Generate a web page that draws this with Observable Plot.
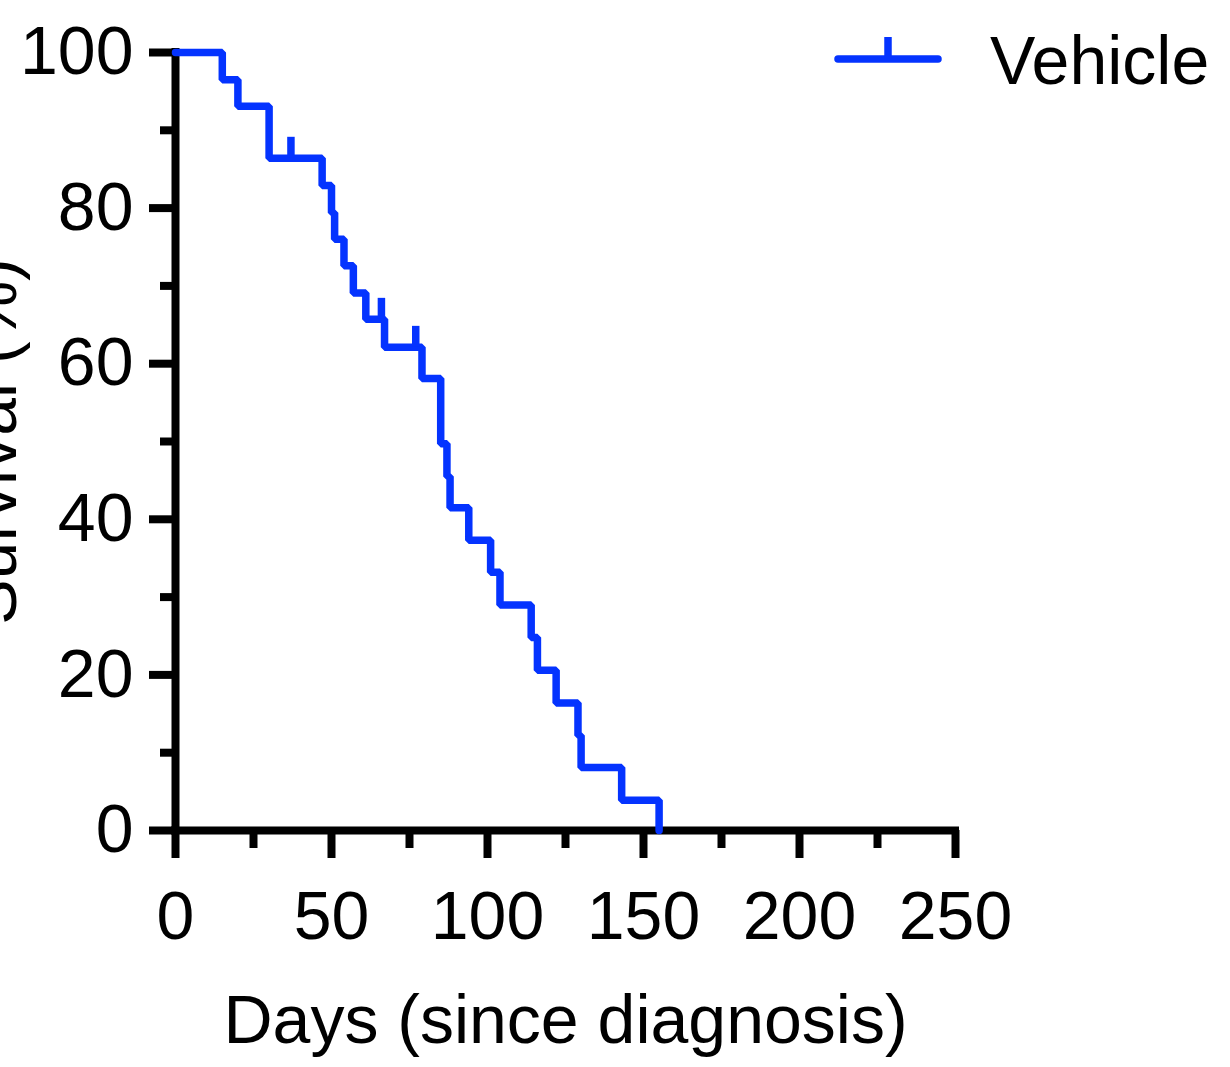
<!DOCTYPE html>
<html>
<head>
<meta charset="utf-8">
<script src="https://cdn.jsdelivr.net/npm/d3@7"></script>
<script src="https://cdn.jsdelivr.net/npm/@observablehq/plot@0.6"></script>
<style>
  body { margin: 0; background: #fff; font-family: "Liberation Sans", Arial, Helvetica, sans-serif; }
  #wrap { position: relative; width: 1230px; height: 1067px; overflow: hidden; background: #fff; }
  #wrap > svg.chart { position: absolute; left: 0; top: 0; }
  #legendKey { position: absolute; left: 834px; top: 34px; }
  #legendText { position: absolute; left: 990px; top: 26px; font-size: 68px; line-height: 68px; color: #000; white-space: nowrap; }
</style>
</head>
<body>
<div id="wrap"></div>
<script>
// ---- data ----
const seriesName = "Vehicle";
const days =     [0,   15,   20,   30,   47,   50,   51,   54,   57,   61,   67,   79,   85,   87,   88,   94,  101,  104,  114,  116,  122,  129,  130,  143, 155];
const survival = [100, 96.5, 93.1, 86.4, 82.9, 79.4, 76.0, 72.6, 69.1, 65.7, 62.1, 58.1, 49.7, 45.5, 41.5, 37.3, 33.2, 29.0, 24.8, 20.6, 16.4, 12.2, 8.1,  3.9, 0];
const censorDays =     [37, 66, 77];
const censorSurvival = [86.4, 65.7, 62.1];
const xTicks = [0, 50, 100, 150, 200, 250];
const xMinorTicks = [25, 75, 125, 175, 225];
const yTicks = [0, 20, 40, 60, 80, 100];
const yMinorTicks = [10, 30, 50, 70, 90];
const xLabel = "Days (since diagnosis)";
const yLabel = "Survival (%)";

const lineColor = "#0433ff";
const font = '"Liberation Sans", Arial, Helvetica, sans-serif';

const curve = days.map((d, i) => ({day: d, s: survival[i]}));
const censored = censorDays.map((d, i) => ({day: d, s: censorSurvival[i]}));

const chart = Plot.plot({
  width: 1230,
  height: 1067,
  marginLeft: 175,
  marginRight: 275,
  marginTop: 52,
  marginBottom: 237,
  style: {fontFamily: font, fontSize: "68px", color: "#000", background: "#fff", overflow: "visible"},
  x: {domain: [0, 250]},
  y: {domain: [0, 100]},
  marks: [
    Plot.axisX({ticks: xTicks, tickSize: 28, tickPadding: 32, strokeWidth: 8, fontSize: 68,
                label: xLabel, labelAnchor: "center", labelArrow: "none", labelOffset: 212}),
    Plot.axisX({ticks: xMinorTicks, tickSize: 18, strokeWidth: 8, tickFormat: () => "", label: null}),
    Plot.axisY({ticks: yTicks, tickSize: 26, tickPadding: 16, strokeWidth: 8, fontSize: 68,
                label: yLabel, labelAnchor: "center", labelArrow: "none", labelOffset: 208}),
    Plot.axisY({ticks: yMinorTicks, tickSize: 15, strokeWidth: 8, tickFormat: () => "", label: null}),
    Plot.ruleY([0], {x1: 0, x2: 250, stroke: "#000", strokeWidth: 8, strokeLinecap: "square"}),
    Plot.ruleX([0], {y1: 0, y2: 100, stroke: "#000", strokeWidth: 8, strokeLinecap: "square"}),
    Plot.line(curve, {x: "day", y: "s", curve: "step-after", stroke: lineColor, strokeWidth: 7.5,
                      strokeLinecap: "round", strokeLinejoin: "miter"}),
    Plot.ruleX(censored, {x: "day", y1: "s", y2: d => d.s + 2.7, stroke: lineColor, strokeWidth: 7.5})
  ]
});
chart.classList.add("chart");
const wrap = document.getElementById("wrap");
wrap.appendChild(chart);

// legend
const key = d3.create("svg").attr("id", "legendKey").attr("width", 108).attr("height", 30);
key.append("line").attr("x1", 4).attr("x2", 104).attr("y1", 25).attr("y2", 25)
  .attr("stroke", lineColor).attr("stroke-width", 7.5).attr("stroke-linecap", "round");
key.append("line").attr("x1", 54).attr("x2", 54).attr("y1", 3).attr("y2", 25)
  .attr("stroke", lineColor).attr("stroke-width", 7.5);
wrap.appendChild(key.node());
const txt = document.createElement("div");
txt.id = "legendText";
txt.textContent = seriesName;
wrap.appendChild(txt);
</script>
</body>
</html>
